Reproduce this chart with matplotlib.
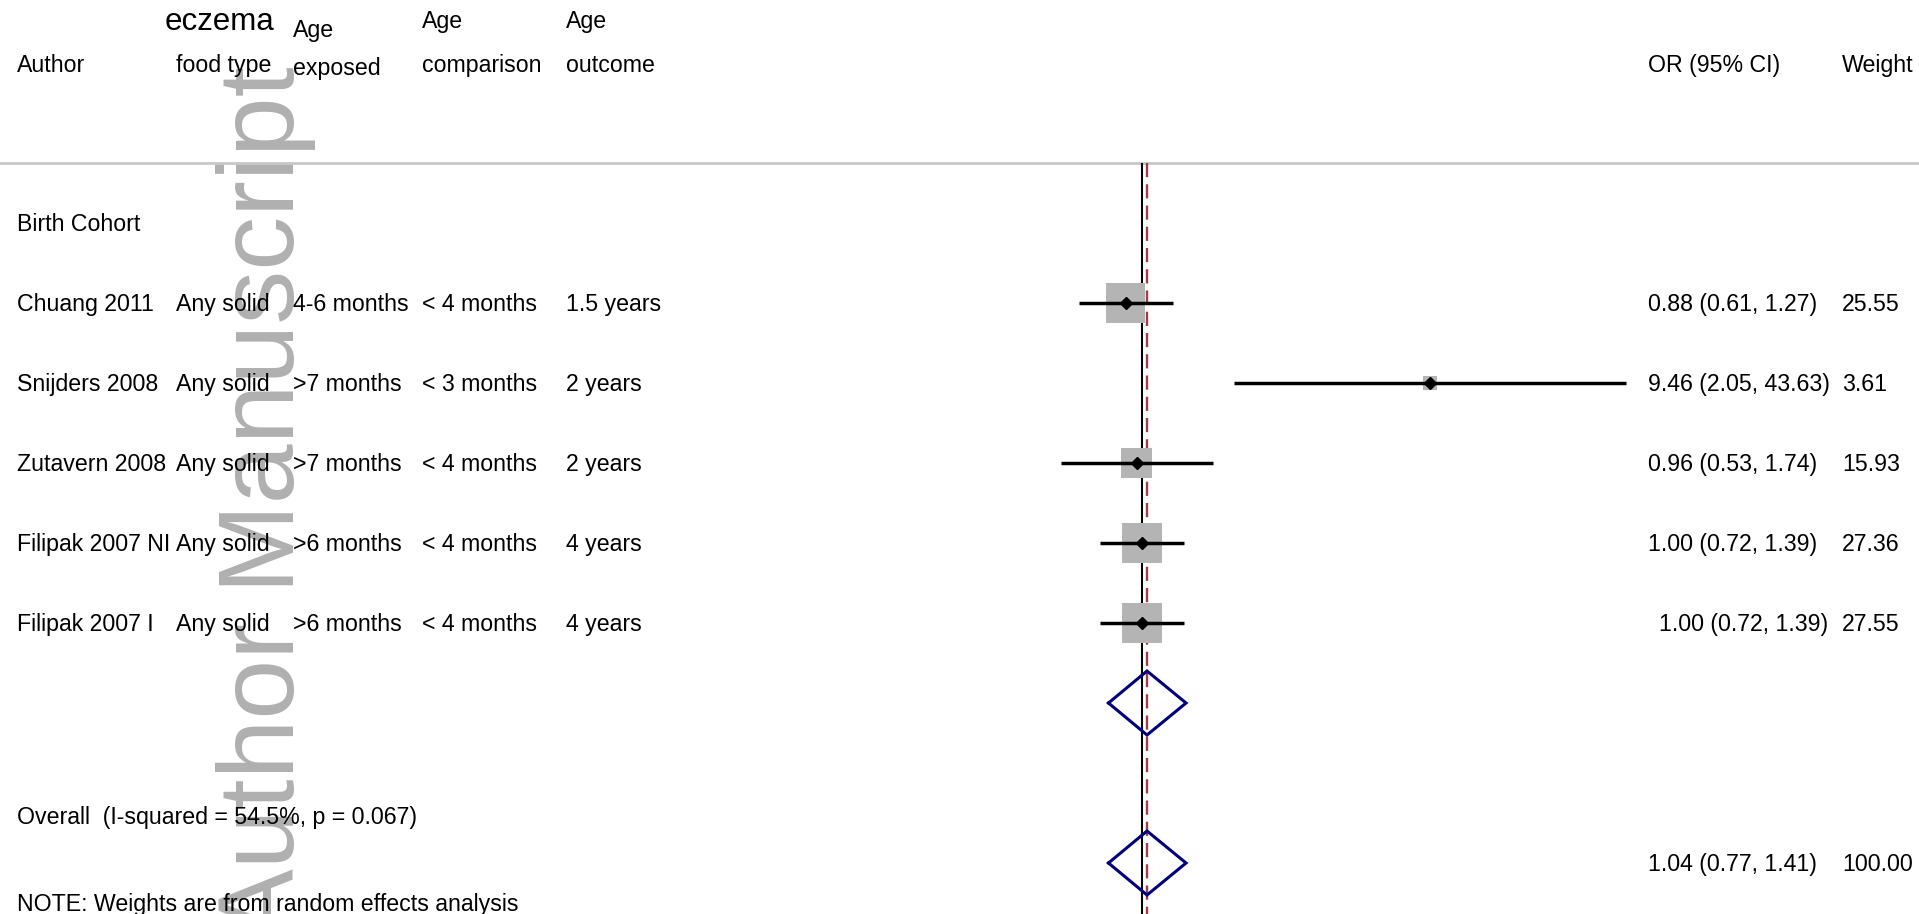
import numpy as np
import matplotlib.pyplot as plt
from matplotlib import transforms

plt.rcParams['font.family'] = ['Liberation Sans', 'DejaVu Sans']

# Birth cohort studies
authors = ["Chuang 2011", "Snijders 2008", "Zutavern 2008", "Filipak 2007 NI", "Filipak 2007 I"]
food_type = ["Any solid", "Any solid", "Any solid", "Any solid", "Any solid"]
age_exposed = ["4-6 months", ">7 months", ">7 months", ">6 months", ">6 months"]
age_comparison = ["< 4 months", "< 3 months", "< 4 months", "< 4 months", "< 4 months"]
age_outcome = ["1.5 years", "2 years", "2 years", "4 years", "4 years"]
odds_ratio = [0.88, 9.46, 0.96, 1.00, 1.00]
ci_low = [0.61, 2.05, 0.53, 0.72, 0.72]
ci_high = [1.27, 43.63, 1.74, 1.39, 1.39]
weights = [25.55, 3.61, 15.93, 27.36, 27.55]

# pooled estimate
pooled_or = 1.04
pooled_low = 0.77
pooled_high = 1.41
i_squared = 54.5
p_het = 0.067

W, H = 1919, 914
fig = plt.figure(figsize=(W / 100, H / 100), dpi=100)
ax = fig.add_axes([0, 0, 1, 1])
ax.axis('off')

# log x scale: OR = 1 at pixel 1142, 128.2 px per unit of ln(OR)
null_px, px_per_ln = 1142, 128.2
ax.set_xscale('log')
ax.set_xlim(np.exp(-null_px / px_per_ln), np.exp((W - null_px) / px_per_ln))
# rows are 80 px apart, group label row 0 sits at pixel 223
ax.set_ylim((H - 223) / 80, -223 / 80)

study_rows = np.arange(1, len(authors) + 1)
subtotal_row = 6
overall_label_row = 7.41
overall_row = 8
note_row = 8.5
line_top = -0.75
y_bottom = (H - 223) / 80

tr = transforms.blended_transform_factory(fig.transFigure, ax.transData)
fs = 16.7


def col_text(xpx, y, s, **kw):
    kw.setdefault('fontsize', fs)
    ax.text(xpx / W, y, s, transform=tr, ha='left', va='baseline', zorder=5, **kw)


def hdr_text(xpx, ypx, s, **kw):
    kw.setdefault('fontsize', fs)
    ax.text(xpx / W, 1 - ypx / H, s, transform=fig.transFigure, ha='left',
            va='baseline', zorder=5, **kw)


# watermark
ax.text(294 / W, 1 - 940 / H, "Author Manuscript", transform=fig.transFigure,
        rotation=90, rotation_mode='anchor', ha='left', va='baseline',
        fontsize=77.5, color='#b0b0b0', zorder=1)

# header
hdr_text(165, 30, "eczema", fontsize=22.5)
hdr_text(293, 37, "Age")
hdr_text(422, 28, "Age")
hdr_text(566, 28, "Age")
hdr_text(17, 72, "Author")
hdr_text(176, 72, "food type")
hdr_text(293, 75, "exposed")
hdr_text(422, 72, "comparison")
hdr_text(566, 72, "outcome")
hdr_text(1648, 72, "OR (95% CI)")
hdr_text(1842, 72, "Weight")

ax.axhline(line_top, color='#c8c8c8', lw=2, zorder=2)

# reference lines
ax.vlines(1, line_top, y_bottom, color='black', lw=1.5, zorder=2)
ax.vlines(pooled_or, line_top, y_bottom, color='#a33a4a', lw=1.7,
          linestyles=[(0, (6, 3))], zorder=2)

# study boxes, CIs and point estimates
side_pt = 7.75 * np.sqrt(weights) * 0.72
ax.scatter(odds_ratio, study_rows, marker='s', s=side_pt ** 2, color='#b4b4b4',
           linewidths=0, zorder=3)
ax.hlines(study_rows, ci_low, ci_high, color='black', lw=2.5, zorder=4)
ax.plot(odds_ratio, study_rows, 'D', ms=6.6, color='black', zorder=5)

# pooled diamonds
for r in [subtotal_row, overall_row]:
    ax.plot([pooled_low, pooled_or, pooled_high, pooled_or, pooled_low],
            [r, r - 0.4, r, r + 0.4, r], color='#000080', lw=2.2,
            solid_joinstyle='miter', zorder=5)

# row texts
col_text(17, 0.1, "Birth Cohort")
or_shift = {4: 11}
for i, r in enumerate(study_rows):
    col_text(17, r + 0.1, authors[i])
    col_text(176, r + 0.1, food_type[i])
    col_text(293, r + 0.1, age_exposed[i])
    col_text(422, r + 0.1, age_comparison[i])
    col_text(566, r + 0.1, age_outcome[i])
    col_text(1648 + or_shift.get(i, 0), r + 0.1,
             f"{odds_ratio[i]:.2f} ({ci_low[i]:.2f}, {ci_high[i]:.2f})")
    col_text(1842, r + 0.1, f"{weights[i]:.2f}")

col_text(17, overall_label_row + 0.1,
         f"Overall  (I-squared = {i_squared}%, p = {p_het:.3f})")
col_text(1648, overall_row + 0.1, f"{pooled_or:.2f} ({pooled_low:.2f}, {pooled_high:.2f})")
col_text(1842, overall_row + 0.1, f"{sum(weights):.2f}")
col_text(17, note_row + 0.1, "NOTE: Weights are from random effects analysis")

fig.savefig('out.png', dpi=100)
